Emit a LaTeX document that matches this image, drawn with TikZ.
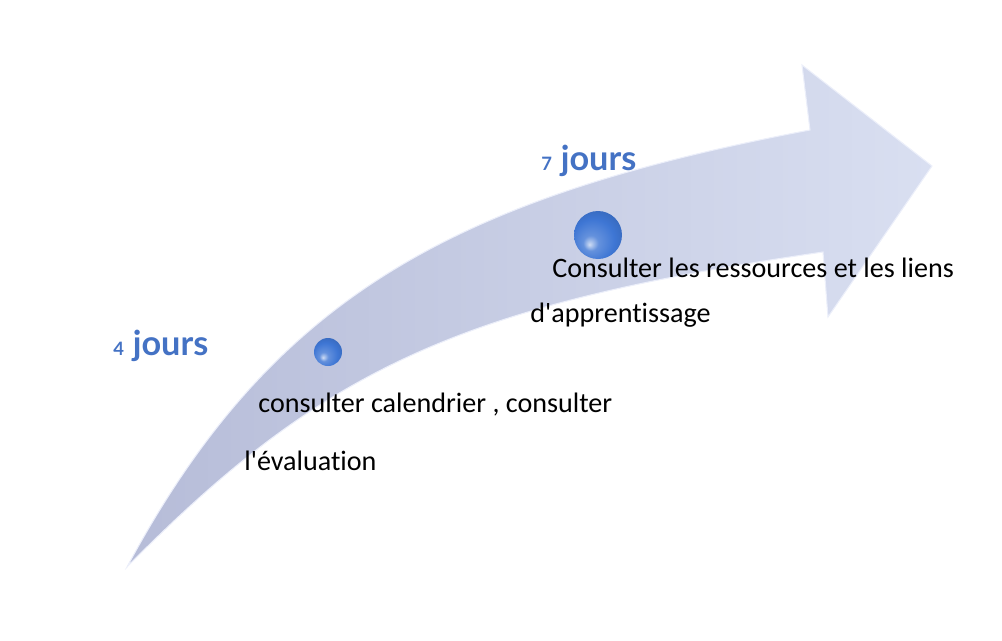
\documentclass[tikz,border=0pt]{standalone}
\usepackage{fontspec}
\setmainfont{Carlito}[Ligatures={TeXOff,NoCommon}]
\newfontfamily\jourfont{Lato}
\usepackage{tikz}
\usetikzlibrary{positioning, shadings}

\definecolor{jourblue}{RGB}{68,114,196}
\definecolor{arrowdark}{RGB}{182,188,216}
\definecolor{arrowmid}{RGB}{207,213,235}
\definecolor{arrowlight}{RGB}{217,223,241}
\definecolor{arrowedge}{RGB}{236,239,250}
\definecolor{spherecol}{RGB}{62,118,212}
\pgfdeclareradialshading[spherecol]{sphereshade}{\pgfqpoint{-9bp}{-10bp}}{color(0bp)=(white!75!spherecol); color(8bp)=(white!20!spherecol); color(22bp)=(spherecol); color(40bp)=(spherecol!80!black); color(50bp)=(spherecol!70!black)}

\begin{document}
\begin{tikzpicture}[x=0.02cm, y=-0.02cm,
    steptext/.style={anchor=base west, inner sep=0pt, font=\fontsize{16}{19}\selectfont},
    jourtext/.style={anchor=base west, inner sep=0pt, text=jourblue, font=\jourfont\bfseries\fontsize{19.5}{22}\selectfont},
    sphere/.style={circle, inner sep=0pt, shading=sphereshade}]
    \useasboundingbox (0,0) rectangle (1002,640);

    % Corners of the curved arrow
    \coordinate (tail) at (127,567);
    \coordinate (upnotch) at (810,130);
    \coordinate (uphead) at (802,65);
    \coordinate (tip) at (932,166);
    \coordinate (lowhead) at (828,317);
    \coordinate (lownotch) at (823,252);

    % Draw the arrow
    \path[left color=arrowdark, middle color=arrowmid, right color=arrowlight, draw=arrowedge, line width=0.6pt]
        (tail) .. controls (271,299) and (450,198) .. (upnotch)
        -- (uphead) -- (tip) -- (lowhead) -- (lownotch)
        .. controls (465,304) and (325,366) .. (tail) -- cycle;

    % Mark the steps
    \node[sphere, minimum size=0.56cm] (s1) at (328,352) {};
    \node[sphere, minimum size=0.96cm] (s2) at (598,235) {};

    % Durations
    \node[jourtext] (d1) at (113,355) {{\fontsize{10.5}{11}\selectfont 4}\hspace{5pt}jours};
    \node[jourtext] (d2) at (541,170) {{\fontsize{10.5}{11}\selectfont 7}\hspace{5pt}jours};

    % Step labels
    \node[steptext] (t1a) at (258,412) {consulter calendrier , consulter};
    \node[steptext] (t1b) at (244,470) {l'évaluation};
    \node[steptext] (t2a) at (552,277) {Consulter les ressources et les liens};
    \node[steptext] (t2b) at (530,322) {d'apprentissage};
\end{tikzpicture}
\end{document}
